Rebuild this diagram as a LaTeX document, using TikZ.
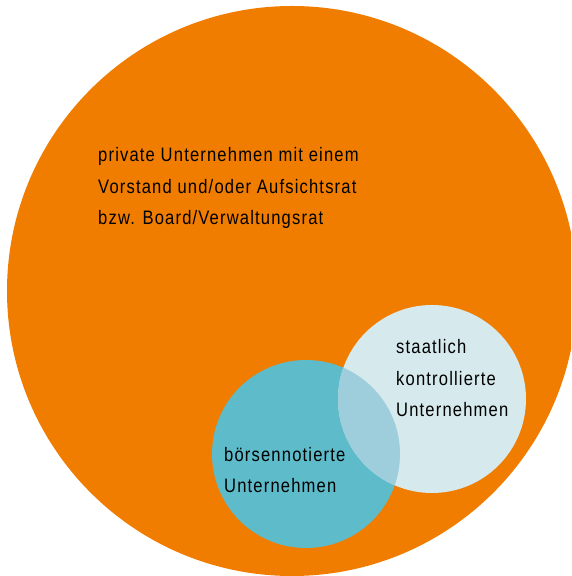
\documentclass[tikz,border=0pt]{standalone}
\usepackage{fontspec}
\setmainfont{Liberation Sans}[FakeStretch=0.85,LetterSpace=6]
\definecolor{orangeC}{RGB}{240,125,0}
\definecolor{tealC}{RGB}{94,187,202}
\definecolor{lightC}{RGB}{214,234,237}
\definecolor{overlapC}{RGB}{158,205,219}
\begin{document}
\begin{tikzpicture}[x=1pt,y=1pt,
  lbl/.style={inner sep=0pt,anchor=base west,align=left,text=black,
    font={\fontsize{19.5}{31.5}\selectfont}}]
\useasboundingbox (0,0) rectangle (571,576);
\clip (0,0) rectangle (571,576);
\fill[orangeC] (292,285) circle[radius=285];
\fill[tealC] (306,122) circle[radius=94];
\fill[lightC] (432,177) circle[radius=94];
\begin{scope}
  \clip (306,122) circle[radius=94];
  \fill[overlapC] (432,177) circle[radius=94];
\end{scope}
\node[lbl] (private) at (98,351) {private Unternehmen mit einem\\Vorstand und/oder Aufsichtsrat\\bzw. Board/Verwaltungsrat};
\node[lbl] (boerse) at (224,83) {börsennotierte\\Unternehmen};
\node[lbl] (staat) at (396,159) {staatlich\\kontrollierte\\Unternehmen};
\end{tikzpicture}
\end{document}
